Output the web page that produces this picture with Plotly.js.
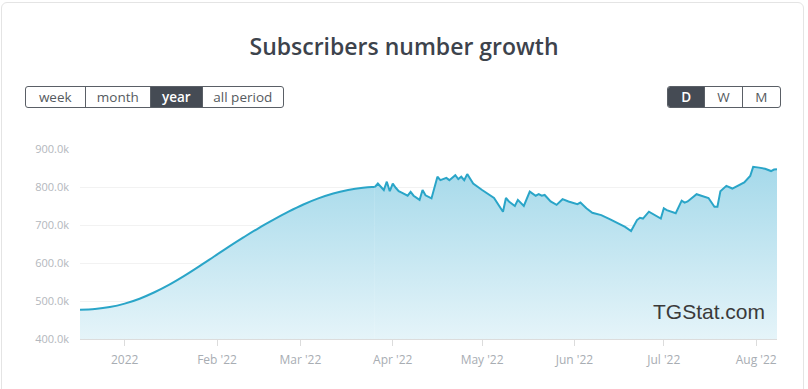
<!DOCTYPE html>
<html>
<head>
<meta charset="utf-8">
<script src="https://cdn.plot.ly/plotly-3.0.1.min.js"></script>
<style>
  html, body { margin: 0; padding: 0; background: #ffffff; }
  #wrap { position: relative; width: 808px; height: 389px; overflow: hidden; }
  #card { position: absolute; left: 1px; top: 2px; width: 803px; height: 420px;
          border: 1px solid #e4e4e4; border-radius: 6px; box-sizing: border-box; }
  #chart { position: absolute; left: 0; top: 0; width: 808px; height: 389px; }
  .grp { position: absolute; top: 86px; height: 22px; display: flex;
         border: 1px solid #5a5f66; border-radius: 3px; box-sizing: border-box; overflow: hidden;
         font-family: "Open Sans", "Noto Sans", sans-serif; font-size: 13.5px; color: #555a60; }
  .grp div { height: 100%; display: flex; align-items: center; justify-content: center;
             border-left: 1px solid #5a5f66; box-sizing: border-box; }
  .grp div:first-child { border-left: none; }
  .grp div.on { background: #454b54; color: #ffffff; font-weight: 600; }
</style>
</head>
<body>
<div id="wrap">
  <div id="card"></div>
  <div id="chart"></div>
  <div class="grp" id="periods" style="left:25px; width:259px;"></div>
  <div class="grp" id="scales" style="left:667px; width:114px;"></div>
</div>
<script>
// ---- data (subscribers, thousands) ----
const dates = [
  "2021-12-17","2021-12-22","2021-12-27","2022-01-01","2022-01-06","2022-01-11","2022-01-16",
  "2022-01-21","2022-01-26","2022-01-31","2022-02-05","2022-02-10","2022-02-15","2022-02-20",
  "2022-02-25","2022-03-02","2022-03-07","2022-03-12","2022-03-17","2022-03-22","2022-03-25",
  "2022-03-26","2022-03-27","2022-03-29","2022-03-30","2022-03-31","2022-04-01","2022-04-02",
  "2022-04-03","2022-04-04","2022-04-06","2022-04-07","2022-04-08","2022-04-10","2022-04-11",
  "2022-04-12","2022-04-14","2022-04-16","2022-04-17","2022-04-19","2022-04-20","2022-04-22",
  "2022-04-23","2022-04-24","2022-04-25","2022-04-26","2022-04-28","2022-05-01","2022-05-04",
  "2022-05-05","2022-05-08","2022-05-09","2022-05-10","2022-05-12","2022-05-13","2022-05-14",
  "2022-05-15","2022-05-17","2022-05-19","2022-05-20","2022-05-21","2022-05-22","2022-05-24",
  "2022-05-26","2022-05-28","2022-05-30","2022-06-02","2022-06-03","2022-06-05","2022-06-07",
  "2022-06-10","2022-06-13","2022-06-16","2022-06-18","2022-06-20","2022-06-22","2022-06-23",
  "2022-06-24","2022-06-26","2022-06-30","2022-07-01","2022-07-02","2022-07-05","2022-07-07",
  "2022-07-08","2022-07-09","2022-07-12","2022-07-13","2022-07-14","2022-07-15","2022-07-16",
  "2022-07-18","2022-07-19","2022-07-20","2022-07-22","2022-07-24","2022-07-28","2022-07-30",
  "2022-07-31","2022-08-02","2022-08-04","2022-08-06","2022-08-07","2022-08-08"
];
const subscribers = [
  477, 479, 484, 493, 506, 523, 543,
  566, 591, 617, 643, 668, 692, 714,
  735, 754, 770, 783, 792, 798, 800,
  800, 809, 792, 814, 789, 809, 798,
  789, 785, 777, 787, 777, 766, 792,
  778, 770, 827, 818, 824, 818, 831,
  821, 827, 818, 834, 809, 792, 775,
  771, 735, 771, 762, 750, 766, 757,
  750, 788, 777, 781, 777, 779, 762,
  753, 768, 762, 755, 759, 744, 732,
  726, 715, 704, 695, 684, 713, 719,
  717, 735, 717, 744, 739, 731, 764,
  759, 762, 781, 779, 775, 775, 771,
  748, 748, 789, 803, 796, 812, 829,
  853, 851, 848, 842, 846, 847
];
// the first points form the smooth (interpolated) stretch of the curve
const smoothCount = 21;
const xTickVals = ["2022-01-01","2022-02-01","2022-03-01","2022-04-01","2022-05-01","2022-06-01","2022-07-01","2022-08-01"];
const xTickText = ["2022","Feb '22","Mar '22","Apr '22","May '22","Jun '22","Jul '22","Aug '22"];
const yTickVals = [400, 500, 600, 700, 800, 900];
const yTickText = ["400.0k", "500.0k", "600.0k", "700.0k", "800.0k", "900.0k"];
const periodButtons = ["week", "month", "year", "all period"];
const scaleButtons = ["D", "W", "M"];

// ---- buttons ----
function buildGroup(id, labels, active, widths) {
  const el = document.getElementById(id);
  labels.forEach((t, i) => {
    const d = document.createElement("div");
    d.textContent = t;
    d.style.width = widths[i] + "px";
    if (t === active) d.className = "on";
    el.appendChild(d);
  });
}
buildGroup("periods", periodButtons, "year", [59, 66, 52, 82]);
buildGroup("scales", scaleButtons, "D", [37, 38, 39]);

// ---- chart ----
const fillGrad = {
  type: "vertical",
  start: 400,
  stop: 855,
  colorscale: [[0, "#e5f4f9"], [1, "#a5d9ea"]]
};
const smoothTrace = {
  type: "scatter",
  mode: "lines",
  x: dates.slice(0, smoothCount + 1),
  y: subscribers.slice(0, smoothCount + 1),
  line: { color: "#2aa5c8", width: 2, shape: "spline", smoothing: 1 },
  fill: "tozeroy",
  fillgradient: fillGrad,
  hoverinfo: "x+y"
};
const dailyTrace = {
  type: "scatter",
  mode: "lines",
  x: dates.slice(smoothCount),
  y: subscribers.slice(smoothCount),
  line: { color: "#2aa5c8", width: 2 },
  fill: "tozeroy",
  fillgradient: fillGrad,
  hoverinfo: "x+y"
};

const layout = {
  width: 808,
  height: 389,
  margin: { l: 80, r: 31, t: 149, b: 50 },
  paper_bgcolor: "rgba(0,0,0,0)",
  plot_bgcolor: "rgba(0,0,0,0)",
  showlegend: false,
  title: {
    text: "Subscribers number growth",
    font: { family: "'Open Sans', 'Noto Sans', sans-serif", size: 23, color: "#3d434c", weight: 600 },
    x: 0.5, xanchor: "center",
    y: 1 - 47 / 389, yanchor: "middle", yref: "container"
  },
  xaxis: {
    type: "date",
    range: ["2021-12-17", "2022-08-08"],
    tickvals: xTickVals,
    ticktext: xTickText,
    ticks: "outside",
    ticklen: 6,
    tickcolor: "#dcdcdc",
    showline: true,
    linecolor: "#dcdcdc",
    linewidth: 1,
    showgrid: false,
    zeroline: false,
    ticklabelstandoff: 4,
    tickfont: { family: "'Open Sans', 'Noto Sans', sans-serif", size: 12, color: "#a8adb3" },
    fixedrange: true
  },
  yaxis: {
    range: [400, 900],
    tickmode: "array",
    tickvals: yTickVals,
    ticktext: yTickText,
    showgrid: true,
    gridcolor: "#f2f2f2",
    zeroline: false,
    showline: false,
    ticks: "",
    ticklabelstandoff: 10,
    tickfont: { family: "'Open Sans', 'Noto Sans', sans-serif", size: 11, color: "#b3b7bd" },
    fixedrange: true
  },
  annotations: [{
    text: "TGStat.com",
    xref: "paper", yref: "paper",
    x: 0.9857, y: 0.147,
    xanchor: "right", yanchor: "middle",
    showarrow: false,
    font: { family: "'Liberation Sans', Arial, sans-serif", size: 21, color: "#3a3a3a" }
  }]
};

Plotly.newPlot("chart", [smoothTrace, dailyTrace], layout, { displayModeBar: false });
</script>
</body>
</html>
